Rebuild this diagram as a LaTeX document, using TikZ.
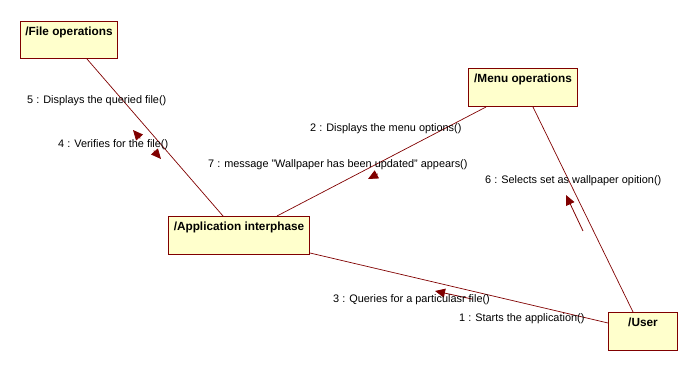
\documentclass[tikz,border=0pt]{standalone}
\usepackage{fontspec}
\setmainfont{Liberation Sans}
\usetikzlibrary{arrows.meta,calc}
\definecolor{linkred}{HTML}{800000}
\definecolor{boxfill}{HTML}{FFFFCC}
\begin{document}
\begin{tikzpicture}[x=1pt,y=-1pt,
  obj/.style={draw=linkred, fill=boxfill, line width=1pt, anchor=north west,
    inner sep=0pt, minimum height=38pt},
  objname/.style={font=\bfseries\fontsize{11.8}{14}\selectfont, anchor=base, yshift=-15pt},
  link/.style={draw=linkred, line width=0.7pt},
  msg/.style={font=\fontsize{10.9}{13}\selectfont, anchor=base west, inner sep=0pt},
  msgarrow/.style={draw=linkred, line width=0.8pt, -{Triangle[length=10pt,width=9pt]}},
]
\useasboundingbox (0,0) rectangle (697,371);

% objects
\node[obj, minimum width=97pt, minimum height=37pt,
  label={[objname]north:/File operations}] (fo) at (20,21) {};
\node[obj, minimum width=109pt,
  label={[objname]north:/Menu operations}] (menu) at (468,68) {};
\node[obj, minimum width=141pt,
  label={[objname]north:/Application interphase}] (app) at (168,216) {};
\node[obj, minimum width=69pt,
  label={[objname]north:/User}] (user) at (608,312) {};

% links
\draw[link] ([xshift=67pt]fo.south west) -- ([xshift=55pt]app.north west);
\draw[link] ([xshift=18pt]menu.south west) -- ([xshift=109pt]app.north west);
\draw[link] ([xshift=65pt]menu.south west) -- ([xshift=25pt]user.north west);
\draw[link] ([yshift=2pt]app.south east) -- ([yshift=-11pt]user.north west);

% message arrows
\coordinate (m5s) at (140.2,138.3); \coordinate (m5t) at (133,130);
\coordinate (m4s) at (153.8,150.7); \coordinate (m4t) at (161,159);
\coordinate (m2s) at (377.7,173.9); \coordinate (m2t) at (368,179);
\coordinate (m3s) at (472,299);     \coordinate (m3t) at (435,291);
\coordinate (m6s) at (583,231);     \coordinate (m6t) at (566,195);
\draw[msgarrow] (m5s) -- (m5t);
\draw[msgarrow] (m4s) -- (m4t);
\draw[msgarrow] (m2s) -- (m2t);
\draw[msgarrow] (m3s) -- (m3t);
\draw[msgarrow] (m6s) -- (m6t);

% message labels
\node[msg] (l5) at (27,104) {5 : Displays the queried file()};
\node[msg] (l4) at (58,148) {4 : Verifies for the file()};
\node[msg] (l2) at (310,132) {2 : Displays the menu options()};
\node[msg] (l7) at (208,168) {7 : message "Wallpaper has been updated" appears()};
\node[msg] (l6) at (485,184) {6 : Selects set as wallpaper opition()};
\node[msg] (l3) at (333,303) {3 : Queries for a particulasr file()};
\node[msg] (l1) at (459,322) {1 : Starts the application()};
\end{tikzpicture}
\end{document}
